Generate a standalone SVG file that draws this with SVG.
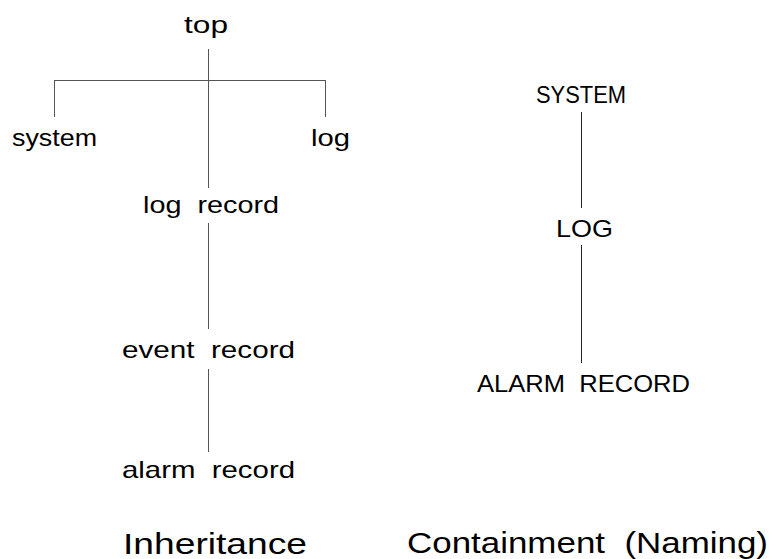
<svg xmlns="http://www.w3.org/2000/svg" width="776" height="559" viewBox="0 0 776 559">
<style>
text{font-family:"Liberation Sans",Arial,sans-serif;font-size:24px;fill:#000;white-space:pre}
.cap{font-size:30px}
.ln{stroke:#555;stroke-width:1;fill:none}
.lnk{stroke:#222;stroke-width:1;fill:none}
</style>
<rect width="776" height="559" fill="#fff"/>
<g id="connectors">
<path class="ln" d="M208.5 49V188M54.5 80.5H325.5M54.5 80V117M325.5 80V117"/>
<path class="ln" d="M208.5 223V329M208.5 369V452"/>
<path class="lnk" d="M581.5 112V208M581.5 245V363"/>
</g>
<g id="n-top"><text x="184" y="33" textLength="44" lengthAdjust="spacingAndGlyphs">top</text></g>
<g id="n-system"><text x="12" y="146" textLength="85" lengthAdjust="spacingAndGlyphs">system</text></g>
<g id="n-log"><text x="311" y="146" textLength="39" lengthAdjust="spacingAndGlyphs">log</text></g>
<g id="n-logrecord"><text x="143" y="213" textLength="136" lengthAdjust="spacingAndGlyphs">log  record</text></g>
<g id="n-eventrecord"><text x="122" y="358" textLength="173" lengthAdjust="spacingAndGlyphs">event  record</text></g>
<g id="n-alarmrecord"><text x="122" y="478" textLength="173" lengthAdjust="spacingAndGlyphs">alarm  record</text></g>
<g id="n-SYSTEM"><text x="536" y="103" textLength="90" lengthAdjust="spacingAndGlyphs">SYSTEM</text></g>
<g id="n-LOG"><text x="556" y="237" textLength="57" lengthAdjust="spacingAndGlyphs">LOG</text></g>
<g id="n-ALARMRECORD"><text x="477" y="392" textLength="213" lengthAdjust="spacingAndGlyphs">ALARM  RECORD</text></g>
<g id="t-inheritance"><text class="cap" x="123" y="554" textLength="184" lengthAdjust="spacingAndGlyphs">Inheritance</text></g>
<g id="t-containment"><text class="cap" x="407" y="553" textLength="361" lengthAdjust="spacingAndGlyphs">Containment  (Naming)</text></g>
</svg>
